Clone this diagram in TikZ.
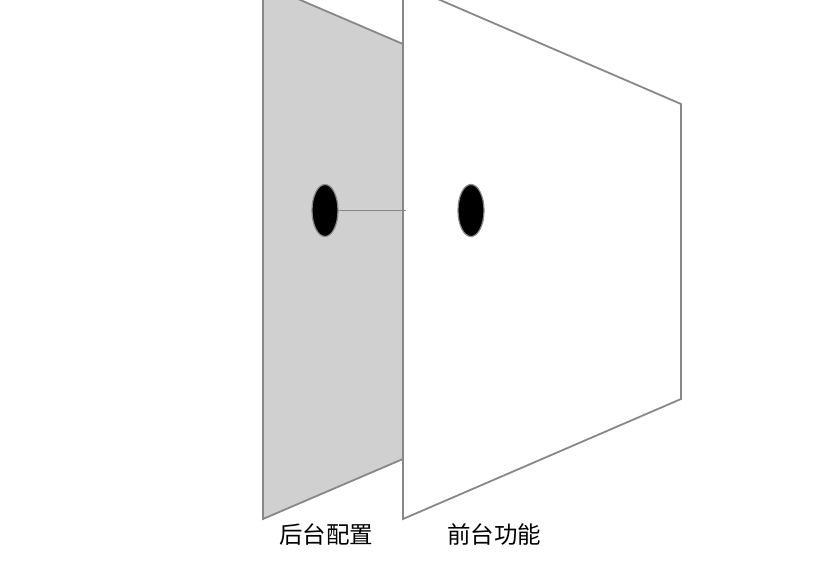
\documentclass[tikz,border=0pt]{standalone}
\usepackage{fontspec}
\usetikzlibrary{shapes.geometric}
\newfontfamily\cjk{Noto Sans CJK SC}
\definecolor{edge}{HTML}{888888}
\definecolor{panelgray}{HTML}{D0D0D0}
\begin{document}
\begin{tikzpicture}[x=1pt,y=-1pt,
  panel/.style={draw=edge,line width=1.8pt,line join=miter},
  hole/.style={draw=edge,fill=black,line width=1.2pt,ellipse,minimum width=26pt,minimum height=52pt,inner sep=0pt},
  lbl/.style={font=\cjk\fontsize{23.5}{26}\selectfont,text=black,inner sep=0pt}]
\useasboundingbox (0,0) rectangle (819,564);
\begin{scope}
\clip (0,0) rectangle (819,564);
\draw[panel,fill=panelgray] (263,-16) -- (403,44) -- (403,459) -- (263,519) -- cycle;
\draw[panel,fill=white] (403,-16) -- (681,104) -- (681,399) -- (403,519) -- cycle;
\end{scope}
\node[hole] (h1) at (325,210.5) {};
\node[hole] (h2) at (471,210.5) {};
\coordinate (e) at (406,210.5);
\draw[edge,line width=1.8pt] (h1.east) -- (e);
\node[lbl] (l1) at (326,535) {后台配置};
\node[lbl] (l2) at (494,535) {前台功能};
\end{tikzpicture}
\end{document}
